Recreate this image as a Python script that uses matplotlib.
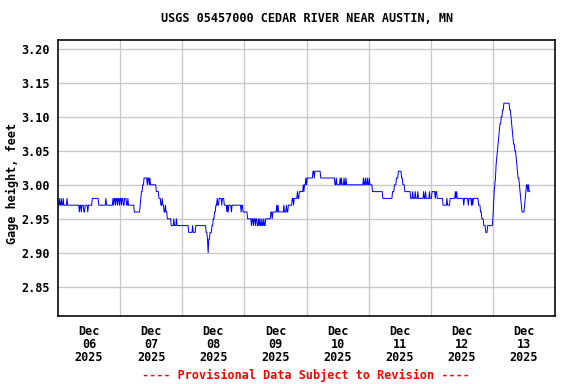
from datetime import datetime, timedelta

import matplotlib

matplotlib.use("Agg")

import matplotlib.pyplot as plt
import numpy as np


START = datetime(2025, 12, 6)

# gage height steps: hour since Dec 06 00:00 where the reading changes, and new reading (ft)
change_hours = [
    0.0, 0.5, 0.75, 1.25, 1.5, 2.0, 2.25, 3.5, 3.75, 8.25, 8.5, 9.0, 9.25, 10.0, 10.5,
    11.5, 11.75, 13.25, 15.75, 18.5, 18.75, 21.25, 21.5, 21.75, 22.25, 22.5, 23.0, 23.25,
    23.75, 24.0, 24.5, 24.75, 25.25, 25.75, 26.5, 27.0, 27.25, 29.5, 31.75, 32.0, 32.25,
    32.75, 33.25, 34.5, 34.75, 35.25, 35.5, 35.75, 38.0, 39.0, 39.75, 40.25, 40.5, 41.0,
    41.5, 41.75, 42.25, 43.75, 44.75, 45.0, 45.75, 46.0, 50.5, 52.0, 52.25, 53.25, 57.25,
    57.75, 58.0, 58.25, 58.75, 59.5, 60.0, 60.5, 61.0, 61.5, 61.75, 62.25, 63.25, 63.5,
    64.25, 65.25, 65.5, 65.75, 66.0, 67.0, 67.25, 70.75, 71.0, 71.5, 72.0, 73.25, 74.75,
    75.0, 75.5, 75.75, 76.25, 76.5, 77.0, 77.5, 77.75, 78.0, 78.25, 78.75, 79.0, 79.5,
    79.75, 80.25, 82.25, 82.75, 83.0, 84.5, 84.75, 85.0, 85.25, 87.25, 87.5, 88.25, 88.5,
    89.0, 90.5, 91.0, 91.25, 92.5, 92.75, 93.25, 94.75, 95.0, 95.25, 95.75, 96.0, 96.25,
    98.5, 99.0, 99.25, 101.5, 107.0, 107.5, 107.75, 109.0, 109.25, 109.5, 109.75, 110.5,
    110.75, 111.25, 111.5, 118.0, 118.25, 118.75, 119.0, 119.5, 119.75, 120.25, 120.5,
    121.5, 125.5, 129.25, 130.0, 130.75, 131.5, 132.75, 133.25, 134.0, 136.25, 137.0,
    137.25, 138.0, 138.25, 139.0, 139.25, 141.25, 141.5, 142.0, 142.25, 143.5, 143.75,
    144.5, 145.75, 146.0, 146.5, 148.75, 150.25, 150.5, 151.5, 153.5, 153.75, 154.0,
    154.25, 156.75, 157.0, 158.5, 158.75, 159.75, 160.0, 160.25, 160.5, 162.5, 163.25,
    163.75, 164.5, 165.25, 166.0, 168.0, 168.25, 168.5, 168.75, 169.0, 169.25, 169.5,
    169.75, 170.0, 170.25, 170.5, 170.75, 171.25, 171.75, 172.25, 174.5, 175.0, 175.25,
    175.5, 175.75, 176.0, 176.5, 177.0, 177.25, 177.5, 177.75, 178.25, 178.5, 178.75,
    179.0, 179.25, 180.25, 180.5, 180.75, 181.0, 181.5, 181.75, 182.0,
]
change_levels = [
    2.97, 2.98, 2.97, 2.98, 2.97, 2.98, 2.97, 2.98, 2.97, 2.96, 2.97, 2.96, 2.97, 2.96, 2.97,
    2.96, 2.97, 2.98, 2.97, 2.98, 2.97, 2.98, 2.97, 2.98, 2.97, 2.98, 2.97, 2.98,
    2.97, 2.98, 2.97, 2.98, 2.97, 2.98, 2.97, 2.98, 2.97, 2.96, 2.97, 2.98, 2.99,
    3.00, 3.01, 3.00, 3.01, 3.00, 3.01, 3.00, 2.99, 2.98, 2.97, 2.98, 2.97, 2.96,
    2.97, 2.96, 2.95, 2.94, 2.95, 2.94, 2.95, 2.94, 2.93, 2.94, 2.93, 2.94, 2.93,
    2.92, 2.90, 2.92, 2.93, 2.94, 2.95, 2.96, 2.97, 2.98, 2.97, 2.98, 2.97, 2.98,
    2.97, 2.96, 2.97, 2.96, 2.97, 2.96, 2.97, 2.96, 2.97, 2.96, 2.96, 2.95, 2.94,
    2.95, 2.94, 2.95, 2.94, 2.95, 2.94, 2.95, 2.94, 2.95, 2.94, 2.95, 2.94, 2.95,
    2.94, 2.95, 2.96, 2.95, 2.96, 2.97, 2.96, 2.97, 2.96, 2.97, 2.96, 2.97, 2.96,
    2.97, 2.98, 2.97, 2.98, 2.99, 2.98, 2.99, 3.00, 2.99, 3.00, 3.01, 3.00, 3.01,
    3.02, 3.01, 3.02, 3.01, 3.00, 3.01, 3.00, 3.01, 3.00, 3.01, 3.00, 3.01,
    3.00, 3.01, 3.00, 3.01, 3.00, 3.01, 3.00, 3.01, 3.00, 3.01, 3.00,
    2.99, 2.98, 2.99, 3.00, 3.01, 3.02, 3.01, 3.00, 2.99, 2.98, 2.99,
    2.98, 2.99, 2.98, 2.99, 2.98, 2.99, 2.98, 2.99, 2.98, 2.99, 2.98,
    2.99, 2.98, 2.99, 2.98, 2.97, 2.98, 2.97, 2.98, 2.99, 2.98, 2.99,
    2.98, 2.97, 2.98, 2.97, 2.98, 2.97, 2.98, 2.97, 2.98, 2.97, 2.96,
    2.95, 2.94, 2.93, 2.94, 2.95, 2.97, 2.99, 3.00, 3.01, 3.03, 3.04,
    3.05, 3.06, 3.07, 3.08, 3.09, 3.10, 3.11, 3.12, 3.11, 3.10, 3.09,
    3.08, 3.07, 3.06, 3.05, 3.04, 3.03, 3.02, 3.01, 3.00, 2.99, 2.98,
    2.97, 2.96, 2.97, 2.98, 2.99, 3.00, 2.99, 3.00, 2.99,
]
last_hour = 182.25

y_ticks = [2.85, 2.90, 2.95, 3.00, 3.05, 3.10, 3.15, 3.20]
day_labels = ["Dec\n06\n2025", "Dec\n07\n2025", "Dec\n08\n2025", "Dec\n09\n2025",
              "Dec\n10\n2025", "Dec\n11\n2025", "Dec\n12\n2025", "Dec\n13\n2025"]

MONO = "DejaVu Sans Mono"


def expand_steps(hours, levels, end):
    # 15-minute readings: each one holds the last reported level
    hours = np.asarray(hours)
    levels = np.asarray(levels)
    t = np.arange(0.0, end + 0.001, 0.25)
    idx = np.searchsorted(hours, t, side="right") - 1
    return t, levels[idx]


def main() -> None:
    t, gage = expand_steps(change_hours, change_levels, last_hour)
    times = [START + timedelta(hours=float(h)) for h in t]

    fig = plt.figure(figsize=(6, 4), dpi=96)
    ax = fig.add_axes([58 / 576, 1 - 316 / 384, 497 / 576, 276 / 384])

    ax.plot(times, gage, color="#0000ff", linewidth=0.75)

    ax.set_xlim(START, START + timedelta(days=8))
    ax.set_ylim(2.807, 3.213)

    noons = [START + timedelta(days=i, hours=12) for i in range(len(day_labels))]
    midnights = [START + timedelta(days=i) for i in range(1, 8)]
    ax.set_xticks(noons)
    ax.set_xticklabels(day_labels, fontfamily=MONO, fontweight="bold", fontsize=8.8,
                       linespacing=1.0)
    ax.set_xticks(midnights, minor=True)
    ax.set_yticks(y_ticks)
    ax.set_yticklabels([f"{v:.2f}" for v in y_ticks], fontfamily=MONO,
                       fontweight="bold", fontsize=8.8)
    ax.tick_params(axis="both", which="both", length=0)
    ax.tick_params(axis="x", pad=7)
    ax.tick_params(axis="y", pad=6)

    ax.grid(True, axis="y", which="major", color="#c8c8c8", linewidth=1.0)
    ax.grid(True, axis="x", which="minor", color="#c8c8c8", linewidth=1.0)
    ax.grid(False, axis="x", which="major")
    ax.set_axisbelow(True)
    for spine in ax.spines.values():
        spine.set_linewidth(1.2)

    fig.text(0.533, 1 - 19 / 384, "USGS 05457000 CEDAR RIVER NEAR AUSTIN, MN",
             ha="center", va="center", fontfamily=MONO, fontweight="bold", fontsize=8.8)
    fig.text(12 / 576, 1 - 183 / 384, "Gage height, feet", rotation=90,
             ha="center", va="center", fontfamily=MONO, fontweight="bold", fontsize=8.8)
    fig.text(306 / 576, 1 - 375 / 384, "---- Provisional Data Subject to Revision ----",
             ha="center", va="center", fontfamily=MONO, fontweight="bold", fontsize=8.8,
             color="#ff0000")

    fig.savefig("out.png", dpi=96, facecolor="white")
    plt.close(fig)


if __name__ == "__main__":
    main()
